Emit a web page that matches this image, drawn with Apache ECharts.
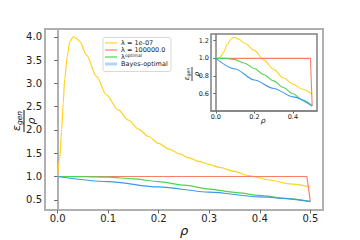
<!DOCTYPE html>
<html>
<head>
<meta charset="utf-8">
<script src="https://cdn.jsdelivr.net/npm/echarts@6/dist/echarts.min.js"></script>
<style>html,body{margin:0;padding:0;background:#fff}#c{width:360px;height:240px}</style>
</head>
<body>
<div id="c"></div>
<script>
// ---- tick labels ----
const mainXTicks = [0.0, 0.1, 0.2, 0.3, 0.4, 0.5];
const mainYTicks = [0.5, 1.0, 1.5, 2.0, 2.5, 3.0, 3.5, 4.0];
const insetXTicks = [0.0, 0.2, 0.4];
const insetYTicks = [0.6, 0.8, 1.0, 1.2];

// ---- legend labels ----
const seriesNames = ['λ = 1e-07', 'λ = 100000.0', 'λ optimal', 'Bayes-optimal'];

// ---- main panel data ----
const yellowMainX = [0, 0.004, 0.008, 0.011, 0.014, 0.019, 0.024, 0.031, 0.037, 0.044, 0.057, 0.077, 0.096, 0.12, 0.14, 0.16, 0.18, 0.2, 0.22, 0.24, 0.26, 0.28, 0.3, 0.32, 0.35, 0.377, 0.42, 0.46, 0.5];
const yellowMainY = [1.0, 1.38, 2.0, 2.58, 3.1, 3.58, 3.9, 4.0, 3.97, 3.9, 3.61, 3.15, 2.76, 2.43, 2.21, 2.02, 1.86, 1.71, 1.59, 1.49, 1.40, 1.32, 1.26, 1.195, 1.11, 1.02, 0.925, 0.84, 0.775];
const redMainX = [0, 0.493, 0.5];
const redMainY = [1.0, 1.0, 0.465];
const greenMainX = [0, 0.05, 0.1, 0.15, 0.2, 0.25, 0.3, 0.35, 0.4, 0.45, 0.5];
const greenMainY = [1.0, 0.998, 0.985, 0.95, 0.89, 0.815, 0.73, 0.66, 0.595, 0.53, 0.465];
const blueMainX = [0, 0.1, 0.2, 0.3, 0.4, 0.5];
const blueMainY = [1.0, 0.89, 0.775, 0.665, 0.56, 0.46];

// ---- inset data ----
const yellowInsetX = [0, 0.02, 0.04, 0.06, 0.08, 0.09, 0.1, 0.12, 0.15, 0.2, 0.25, 0.3, 0.35, 0.4, 0.45, 0.5];
const yellowInsetY = [1.0, 1.0, 1.07, 1.16, 1.22, 1.235, 1.235, 1.215, 1.17, 1.09, 0.98, 0.875, 0.78, 0.71, 0.65, 0.595];
const redInsetX = [0, 0.491, 0.5];
const redInsetY = [1.0, 1.0, 0.46];
const greenInsetX = [0, 0.05, 0.1, 0.15, 0.2, 0.25, 0.3, 0.35, 0.4, 0.45, 0.5];
const greenInsetY = [1.0, 1.0, 0.985, 0.945, 0.885, 0.815, 0.745, 0.67, 0.6, 0.53, 0.465];
const blueInsetX = [0, 0.1, 0.2, 0.3, 0.4, 0.5];
const blueInsetY = [1.0, 0.88, 0.755, 0.66, 0.565, 0.46];

const zip = (xs, ys) => xs.map((x, i) => [x, ys[i]]);
const COLORS = ['#ffd21f', '#fa7f6a', '#4fd34f', '#3c98ec'];
const FONT = 'DejaVu Sans';

function mkLine(name, xs, ys, color, idx, smooth, width) {
  const s = {
    name: name, type: 'line', xAxisIndex: idx, yAxisIndex: idx,
    data: zip(xs, ys), showSymbol: false, symbol: 'none',
    smooth: smooth ? 0.3 : false,
    lineStyle: { color: color, width: width || 1.2 }, itemStyle: { color: color },
    animation: false, silent: true
  };
  if (smooth) s.smoothMonotone = 'x';
  return s;
}

function axisCommon(idx, ticks, fs, margin) {
  return {
    axisLine: { show: true, lineStyle: { color: idx ? '#808080' : '#b0b0b0', width: idx ? 1.5 : 2 } },
    axisTick: { show: true, customValues: ticks, length: idx ? 2.5 : 3.5, lineStyle: { color: '#666', width: 1 } },
    axisLabel: { show: true, customValues: ticks, formatter: v => v.toFixed(1), fontSize: fs, fontFamily: FONT, color: '#222', margin: margin },
    splitLine: { show: false }
  };
}
function xAxisCfg(idx, ticks, fs, margin) {
  return Object.assign({ type: 'value', gridIndex: idx, min: -0.025, max: 0.525 }, axisCommon(idx, ticks, fs, margin));
}
function yAxisCfg(idx, ticks, min, max, fs, margin) {
  return Object.assign({ type: 'value', gridIndex: idx, min: min, max: max }, axisCommon(idx, ticks, fs, margin));
}

function fraction(cx, cy, fs, half) {
  return {
    type: 'group', x: cx, y: cy, rotation: Math.PI / 2, z: 10,
    children: [
      { type: 'text', x: 0, y: -1.5, style: { text: '{e|ε}{s|gen}', fontFamily: FONT, align: 'center', verticalAlign: 'bottom', fill: '#111',
        rich: { e: { fontSize: fs, fontStyle: 'italic', fontFamily: FONT }, s: { fontSize: fs * 0.68, fontStyle: 'italic', fontFamily: FONT, padding: [fs * 0.4, 0, 0, 0] } } } },
      { type: 'line', shape: { x1: -half, y1: 0, x2: half, y2: 0 }, style: { stroke: '#111', lineWidth: fs > 8 ? 1 : 0.8 } },
      { type: 'text', x: 0, y: 1.5, style: { text: 'ρ', fontSize: fs, fontStyle: 'italic', fontFamily: FONT, align: 'center', verticalAlign: 'top', fill: '#111' } }
    ]
  };
}

const legendRows = [43, 50, 57, 64];
const legendGraphic = {
  type: 'group', children: [
    { type: 'rect', shape: { x: 103, y: 37.5, width: 68, height: 34, r: 2 }, style: { fill: 'rgba(255,255,255,0.85)', stroke: '#d8d8d8', lineWidth: 1 } },
    ...legendRows.map((y, i) => ({ type: 'line', shape: { x1: 105, y1: y, x2: 117, y2: y },
      style: { stroke: i === 3 ? 'rgba(60,152,236,0.4)' : COLORS[i], lineWidth: i === 3 ? 3 : 1.2 } })),
    { type: 'text', x: 121, y: legendRows[0], style: { text: seriesNames[0], fontSize: 6.5, fontFamily: FONT, fill: '#222', verticalAlign: 'middle' } },
    { type: 'text', x: 121, y: legendRows[1], style: { text: seriesNames[1], fontSize: 6.5, fontFamily: FONT, fill: '#222', verticalAlign: 'middle' } },
    { type: 'text', x: 121, y: legendRows[2], style: { text: 'λ', fontSize: 6.5, fontFamily: FONT, fill: '#222', verticalAlign: 'middle' } },
    { type: 'text', x: 125, y: legendRows[2] - 2, style: { text: 'optimal', fontSize: 4.5, fontFamily: FONT, fill: '#222', verticalAlign: 'middle' } },
    { type: 'text', x: 121, y: legendRows[3], style: { text: seriesNames[3], fontSize: 6.5, fontFamily: FONT, fill: '#222', verticalAlign: 'middle' } }
  ]
};

const chart = echarts.init(document.getElementById('c'), null, { renderer: 'svg' });
chart.setOption({
  animation: false,
  backgroundColor: '#fff',
  grid: [
    { left: 45, top: 29, right: 37, bottom: 30, show: true, borderColor: '#b0b0b0', borderWidth: 2, backgroundColor: '#fff' },
    { left: 211, top: 34, right: 43, bottom: 129, show: true, borderColor: '#808080', borderWidth: 1.5, backgroundColor: '#fff', z: 5 }
  ],
  xAxis: [xAxisCfg(0, mainXTicks, 10, 3), Object.assign(xAxisCfg(1, insetXTicks, 6.5, 2), { z: 6 })],
  yAxis: [yAxisCfg(0, mainYTicks, 0.28, 4.17, 10, 3), Object.assign(yAxisCfg(1, insetYTicks, 0.405, 1.275, 6.5, 2), { z: 6 })],
  series: [
    mkLine(seriesNames[0], yellowMainX, yellowMainY, COLORS[0], 0, true),
    mkLine(seriesNames[1], redMainX, redMainY, COLORS[1], 0, false),
    mkLine(seriesNames[2], greenMainX, greenMainY, COLORS[2], 0, true),
    mkLine(seriesNames[3], blueMainX, blueMainY, COLORS[3], 0, true),
    Object.assign(mkLine(seriesNames[0], yellowInsetX, yellowInsetY, COLORS[0], 1, true, 1.1), { z: 7 }),
    Object.assign(mkLine(seriesNames[1], redInsetX, redInsetY, COLORS[1], 1, false, 1.1), { z: 7 }),
    Object.assign(mkLine(seriesNames[2], greenInsetX, greenInsetY, COLORS[2], 1, true, 1.1), { z: 7 }),
    Object.assign(mkLine(seriesNames[3], blueInsetX, blueInsetY, COLORS[3], 1, true, 1.1), { z: 7 })
  ],
  graphic: [
    legendGraphic,
    fraction(24, 121, 11, 11),
    fraction(192, 74, 7, 7),
    { type: 'text', x: 184, y: 230, style: { text: 'ρ', fontSize: 13, fontStyle: 'italic', fontFamily: FONT, fill: '#111', align: 'center', verticalAlign: 'middle' } },
    { type: 'text', x: 263, y: 120, z: 10, style: { text: 'ρ', fontSize: 7.5, fontStyle: 'italic', fontFamily: FONT, fill: '#111', align: 'center', verticalAlign: 'middle' } }
  ]
});
</script>
</body>
</html>
